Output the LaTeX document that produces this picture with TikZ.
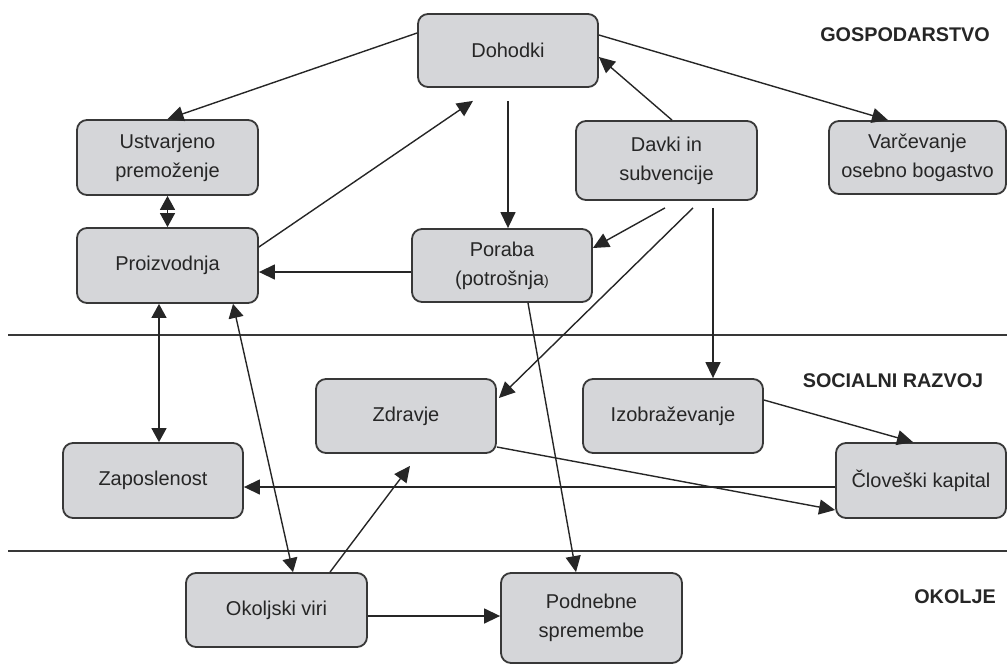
\documentclass[tikz,border=0pt]{standalone}
\usepackage{fontspec}
\setmainfont{Liberation Sans}
\usetikzlibrary{arrows.meta}
\definecolor{boxfill}{HTML}{D5D6D9}
\definecolor{boxline}{HTML}{383838}
\definecolor{ink}{HTML}{262626}
\tikzset{
  box/.style={draw=boxline, line width=0.9pt, fill=boxfill, rounded corners=5pt,
    minimum width=90pt, minimum height=37pt, inner sep=1pt, align=center,
    text=ink, font=\fontsize{10}{14.5}\selectfont},
  zone/.style={text=ink, font=\bfseries\fontsize{9.9}{12}\selectfont, inner sep=0pt},
  conn/.style={draw=ink, line width=0.7pt, -{Triangle[length=8pt,width=7.5pt]}},
  conn2/.style={draw=ink, line width=0.7pt, {Triangle[length=7pt,width=7.5pt]}-{Triangle[length=7pt,width=7.5pt]}},
  sep/.style={draw=boxline, line width=0.8pt}
}
\begin{document}
\begin{tikzpicture}[x=0.5pt, y=-0.5pt]
\useasboundingbox (0,0) rectangle (1007,664);
% separators
\coordinate (s1a) at (8,335); \coordinate (s1b) at (1007,335);
\coordinate (s2a) at (8,551); \coordinate (s2b) at (1007,551);
\draw[sep] (s1a) -- (s1b);
\draw[sep] (s2a) -- (s2b);
% nodes
\node[box, minimum height=36.5pt] (doh) at (508,50.5) {Dohodki};
\node[box, minimum width=90.5pt, minimum height=37.5pt] (ust) at (167.5,157.5) {Ustvarjeno\\premoženje};
\node[box, minimum width=90.5pt, minimum height=37.5pt] (pro) at (167.5,265.5) {Proizvodnja};
\node[box, minimum height=36.5pt] (por) at (502,265.5) {Poraba\\(potrošnja{\fontsize{7}{8}\selectfont)}};
\node[box, minimum width=90.5pt, minimum height=39.5pt] (dav) at (666.5,160.5) {Davki in\\subvencije};
\node[box, minimum width=88.5pt, minimum height=36.5pt] (var) at (917.5,157.5) {Varčevanje\\osebno bogastvo};
\node[box] (zdr) at (406,416) {Zdravje};
\node[box] (izo) at (673,416) {Izobraževanje};
\node[box, minimum height=37.5pt] (zap) at (153,480.5) {Zaposlenost};
\node[box, minimum width=85pt, minimum height=37.5pt] (clo) at (921,480.5) {Človeški kapital};
\node[box, minimum width=90.5pt] (oko) at (276.5,610) {Okoljski viri};
\node[box, minimum width=90.5pt, minimum height=45pt] (pod) at (591.5,618) {Podnebne\\spremembe};
% zone labels
\node[zone] (lg) at (905,35) {GOSPODARSTVO};
\node[zone] (ls) at (893,381) {SOCIALNI RAZVOJ};
\node[zone] (lo) at (955,597) {OKOLJE};
% connectors
\draw[conn] ([yshift=8.75pt]doh.west) -- (ust.north);
\draw[conn] ([yshift=9.25pt]pro.east) -- ([xshift=-17.5pt,yshift=-6.5pt]doh.south);
\draw[conn2] (ust.south) -- (pro.north);
\draw[conn] ([yshift=-3.25pt]por.west) -- ([yshift=-3.25pt]pro.east);
\draw[conn] ([yshift=-6.5pt]doh.south) -- ([xshift=3pt]por.north);
\draw[conn] ([xshift=2.75pt]dav.north) -- ([yshift=-3.25pt]doh.east);
\draw[conn] ([yshift=7.75pt]doh.east) -- ([xshift=-14.75pt]var.north);
\draw[conn] ([xshift=-0.75pt,yshift=-3.5pt]dav.south) -- ([yshift=8.75pt]por.east);
\draw[conn] ([xshift=13.25pt,yshift=-3.5pt]dav.south) -- ([xshift=1pt,yshift=9pt]zdr.east);
\draw[conn] ([xshift=23.25pt,yshift=-3.5pt]dav.south) -- ([xshift=20pt]izo.north);
\draw[conn] ([xshift=13pt]por.south) -- ([xshift=-7.75pt]pod.north);
\draw[conn2] ([xshift=-4.25pt]pro.south) -- ([xshift=3pt]zap.north);
\draw[conn2] ([xshift=32.75pt]pro.south) -- ([xshift=8.25pt]oko.north);
\draw[conn] ([xshift=26.75pt]oko.north) -- ([xshift=2pt,yshift=-6pt]zdr.south);
\draw[conn] ([yshift=-3pt]oko.east) -- ([yshift=-3pt]pod.west |- oko.east);
\draw[conn] ([yshift=8pt]izo.east) -- ([xshift=-4pt]clo.north);
\draw[conn] ([yshift=-15.5pt]zdr.east) -- ([yshift=-14.75pt]clo.west);
\draw[conn] ([yshift=-3.25pt]clo.west) -- ([yshift=-3.25pt]zap.east);
\end{tikzpicture}
\end{document}
